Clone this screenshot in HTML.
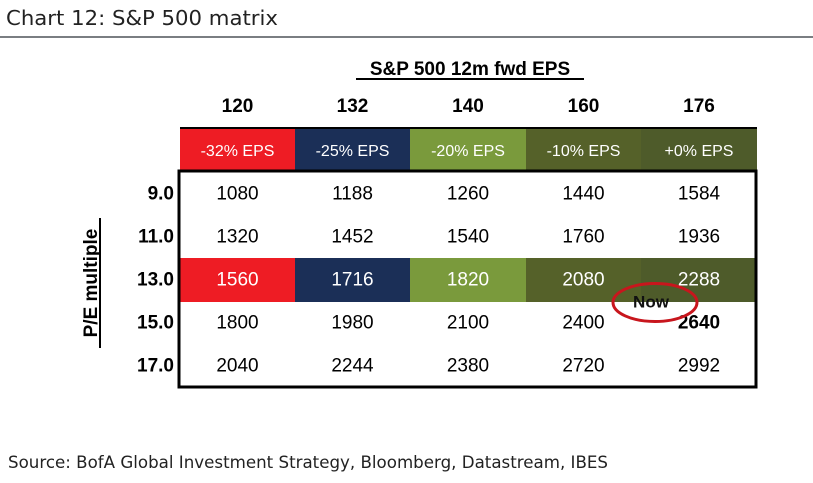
<!DOCTYPE html>
<html><head><meta charset="utf-8"><style>
body{margin:0;width:813px;height:478px;background:#fff;overflow:hidden;font-family:"Liberation Sans",Arial,sans-serif}
</style></head><body>
<svg width="813" height="478" xmlns="http://www.w3.org/2000/svg" id="chart">
<text x="6" y="25" font-family="DejaVu Sans, sans-serif" font-size="20" fill="#222" textLength="272" lengthAdjust="spacingAndGlyphs">Chart 12: S&amp;P 500 matrix</text>
<rect x="0" y="36" width="813" height="2" fill="#7a7e82"/>
<text x="470" y="75" text-anchor="middle" font-size="19" font-weight="bold" fill="#000">S&amp;P 500 12m fwd EPS</text>
<rect x="356" y="78" width="228" height="2" fill="#000"/>
<text transform="translate(97,283) rotate(-90)" text-anchor="middle" font-size="19" font-weight="bold" fill="#000">P/E multiple</text>
<rect x="99" y="218" width="2" height="130" fill="#000"/>
<g id="g"></g>
<text x="8" y="468" font-family="DejaVu Sans, sans-serif" font-size="17" fill="#222" textLength="600" lengthAdjust="spacingAndGlyphs">Source: BofA Global Investment Strategy, Bloomberg, Datastream, IBES</text>
</svg>
<script>
const eps=[120,132,140,160,176];
const epsLabels=["-32% EPS","-25% EPS","-20% EPS","-10% EPS","+0% EPS"];
const pe=[9.0,11.0,13.0,15.0,17.0];
const peLabels=["9.0","11.0","13.0","15.0","17.0"];
const highlightRow=2;
const nowCol=4, nowRow=3;
const colors=["#ee1c24","#1b2f57","#7a9a3c","#556129","#4e5b2a"];
const NS="http://www.w3.org/2000/svg";
const g=document.getElementById('g');
const colEdges=[180,295,410,526,641,757];
const xL=i=>colEdges[i], xW=i=>colEdges[i+1]-colEdges[i], xC=i=>(colEdges[i]+colEdges[i+1])/2;
const top0=171, rowH=43;
const yC=j=>top0+rowH*j+rowH/2;
function mk(t,a){const e=document.createElementNS(NS,t);for(const k in a)e.setAttribute(k,a[k]);g.appendChild(e);return e;}
eps.forEach((v,i)=>{
 let t=mk('text',{x:xC(i),y:112,'text-anchor':'middle','font-size':19,'font-weight':'bold'});t.textContent=v;
 
 
 let r=mk('rect',{x:xL(i),y:129,width:xW(i),height:42,fill:colors[i]});
 
 
 let l=mk('text',{x:xC(i),y:156,'text-anchor':'middle','font-size':16,fill:'#fff'});l.textContent=epsLabels[i];
 
 
});
let tl=mk('rect',{x:180,y:127,width:577,height:2,fill:'#000'});


pe.forEach((p,j)=>{
 let lb=mk('text',{x:174,y:yC(j)+7,'text-anchor':'end','font-size':19,'font-weight':'bold'});lb.textContent=peLabels[j];
 
 
 eps.forEach((e,i)=>{
  if(j===highlightRow){let r=mk('rect',{x:xL(i),y:top0+rowH*j+1,width:xW(i),height:rowH+1,fill:colors[i]});
   
   }
  let t=mk('text',{x:xC(i),y:yC(j)+7,'text-anchor':'middle','font-size':19,fill:j===highlightRow?'#fff':'#000','font-weight':(i===nowCol&&j===nowRow)?'bold':'normal'});
  t.textContent=Math.round(e*p);
  
  
 });
});
let b=mk('rect',{x:179,y:top0,width:577,height:rowH*5+1,fill:'none',stroke:'#000','stroke-width':3});


let el=mk('ellipse',{cx:xC(nowCol)-44,cy:yC(nowRow)-19,rx:42,ry:19,fill:'none',stroke:'#c8161d','stroke-width':3});


let nw=mk('text',{x:xC(nowCol)-48,y:yC(nowRow)-14,'text-anchor':'middle','font-size':17,'font-weight':'bold',fill:'#111'});nw.textContent='Now';


</script>
</body></html>
